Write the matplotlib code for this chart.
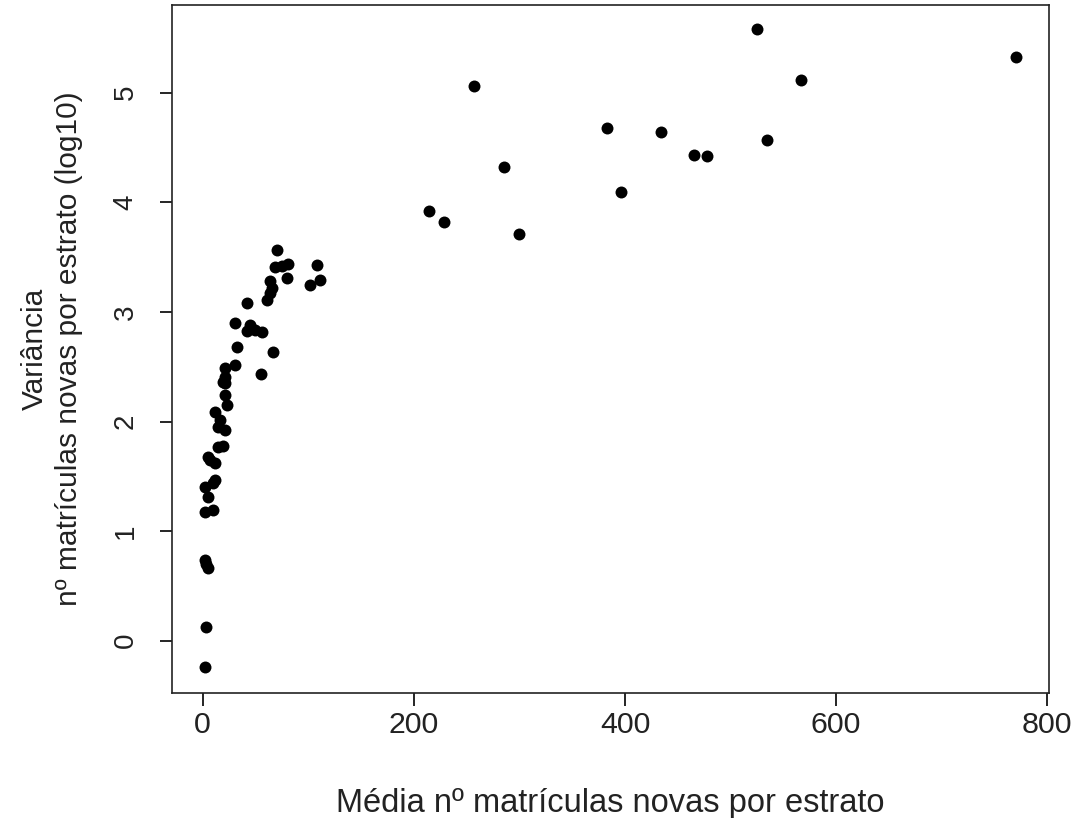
import matplotlib
matplotlib.use("Agg")
import matplotlib.pyplot as plt

plt.rcParams["font.family"] = ["Liberation Sans", "DejaVu Sans"]

# Mean new enrolments per stratum and log10 of the variance
media = [
    770.5, 525.5, 566.5, 535.0, 465.0, 478.0, 434.0, 383.0, 396.5,
    257.0, 285.0, 300.0, 214.5, 229.0,
    108.0, 111.0, 101.6,
    70.0, 68.4, 75.4, 81.0, 79.5, 63.7, 65.3, 64.0, 60.6, 41.6,
    30.6, 44.8, 41.6, 49.5, 55.8, 32.2, 66.8, 30.6, 21.1, 55.2,
    21.1, 19.5, 21.1, 21.5, 22.7, 11.6, 16.4, 14.8, 21.1, 14.8,
    19.5, 5.3, 6.9, 11.6, 11.6, 10.0, 2.2, 5.3, 2.2, 10.0,
    2.2, 3.5, 5.3, 3.1, 2.2,
]
variancia_log10 = [
    5.33, 5.58, 5.12, 4.57, 4.43, 4.42, 4.64, 4.68, 4.09,
    5.06, 4.32, 3.71, 3.92, 3.82,
    3.43, 3.29, 3.245,
    3.565, 3.41, 3.42, 3.44, 3.31, 3.28, 3.22, 3.17, 3.11, 3.08,
    2.90, 2.88, 2.83, 2.835, 2.82, 2.68, 2.63, 2.515, 2.485, 2.43,
    2.41, 2.36, 2.35, 2.24, 2.15, 2.09, 2.01, 1.95, 1.92, 1.77,
    1.78, 1.68, 1.65, 1.62, 1.47, 1.44, 1.405, 1.31, 1.17, 1.19,
    0.736, 0.70, 0.66, 0.128, -0.243,
]

x_ticks = [0, 200, 400, 600, 800]
y_ticks = [0, 1, 2, 3, 4, 5]

fig = plt.figure(figsize=(10.72, 8.18), dpi=100)
ax = fig.add_axes([0.1604, 0.1528, 0.9785 - 0.1604, 0.9939 - 0.1528])

ax.plot(media, variancia_log10, "o", color="black", markersize=8.6,
        markeredgewidth=0, linestyle="none")

ax.set_xlim(-29.1, 801.6)
ax.set_ylim(-0.477, 5.80)
ax.set_xticks(x_ticks)
ax.set_yticks(y_ticks)
ax.set_xticklabels([str(v) for v in x_ticks])
ax.set_yticklabels([str(v) for v in y_ticks], rotation=90, va="center")

ax.tick_params(axis="both", direction="out", length=9, width=1.2,
               colors="black", labelcolor="#222222")
ax.tick_params(axis="x", pad=4, labelsize=21.8)
ax.tick_params(axis="y", pad=15, labelsize=20)
for sp in ax.spines.values():
    sp.set_linewidth(1.2)
    sp.set_color("#222222")

ax.set_xlabel("Média nº matrículas novas por estrato", fontsize=23.5,
              labelpad=35, color="#222222")
ax.set_ylabel("Variância\nnº matrículas novas por estrato (log10)",
              fontsize=21.5, labelpad=21, linespacing=1.3, color="#222222")

fig.savefig("out.png", dpi=100, facecolor="white")
